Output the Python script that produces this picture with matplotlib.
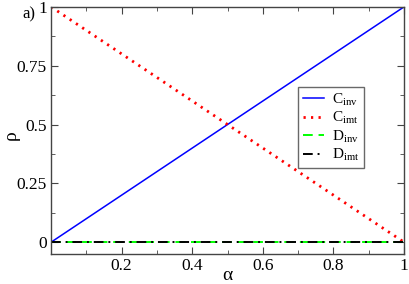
import matplotlib
matplotlib.use("Agg")
import matplotlib.pyplot as plt
from matplotlib.ticker import MultipleLocator

plt.rcParams['font.family'] = ['Liberation Serif', 'DejaVu Serif']
plt.rcParams['mathtext.fontset'] = 'custom'
plt.rcParams['mathtext.rm'] = 'Liberation Serif'
plt.rcParams['mathtext.it'] = 'Liberation Serif:italic'

# values
alpha = [0.0, 0.25, 0.5, 0.75, 1.0]
c_inv = [0.0, 0.25, 0.5, 0.75, 1.0]
c_imt = [1.0, 0.75, 0.5, 0.25, 0.0]
d_inv = [0.0, 0.0, 0.0, 0.0, 0.0]
d_imt = [0.0, 0.0, 0.0, 0.0, 0.0]

x_ticks = [0.2, 0.4, 0.6, 0.8, 1.0]
x_labels = ['0.2', '0.4', '0.6', '0.8', '1']
y_ticks = [0, 0.25, 0.5, 0.75, 1.0]
y_labels = ['0', '0.25', '0.5', '0.75', '1']

fig = plt.figure(figsize=(4.09, 2.84), dpi=100)
ax = fig.add_axes([0.1247, 0.1056, 0.8633, 0.8704])

ax.plot(alpha, c_inv, color='#0000ff', lw=1.1, label=r'C$_{\mathrm{inv}}$')
ax.plot(alpha, c_imt, color='#ff0000', lw=2.0, linestyle=(0, (0.8, 1.9)), label=r'C$_{\mathrm{imt}}$')
ax.plot(alpha, d_inv, color='#00ff00', lw=1.4, linestyle=(0, (5, 3)), label=r'D$_{\mathrm{inv}}$')
ax.plot(alpha, d_imt, color='black', lw=1.4, linestyle=(0, (5, 2.5, 1, 2.5)), label=r'D$_{\mathrm{imt}}$')

ax.set_xlim(0, 1)
ax.set_ylim(-0.05, 1.0)
ax.set_xticks(x_ticks)
ax.set_xticklabels(x_labels)
ax.set_yticks(y_ticks)
ax.set_yticklabels(y_labels)
ax.xaxis.set_minor_locator(MultipleLocator(0.1))
ax.yaxis.set_minor_locator(MultipleLocator(0.125))
ax.tick_params(which='both', direction='in', top=True, right=True, labelsize=12.5, color='#444444')
ax.tick_params(which='major', length=5)
ax.tick_params(which='minor', length=3)
ax.tick_params(axis='x', pad=3)
ax.tick_params(axis='y', pad=3)
for s in ax.spines.values():
    s.set_color('#444444')
    s.set_linewidth(1.0)

ax.set_xlabel('α', fontsize=14, labelpad=-5)
ax.set_ylabel('ρ', fontsize=14)
ax.yaxis.set_label_coords(-0.088, 0.48)
fig.text(0.054, 0.95, 'a)', fontsize=12, ha='left', va='center')

leg = ax.legend(loc='upper left', bbox_to_anchor=(0.70, 0.675), fontsize=11,
                frameon=True, fancybox=False, edgecolor='#444444',
                handlelength=1.4, handletextpad=0.5, borderpad=0.3,
                labelspacing=0.15, borderaxespad=0)
leg.get_frame().set_linewidth(1.0)

fig.savefig('out.png', dpi=100)
